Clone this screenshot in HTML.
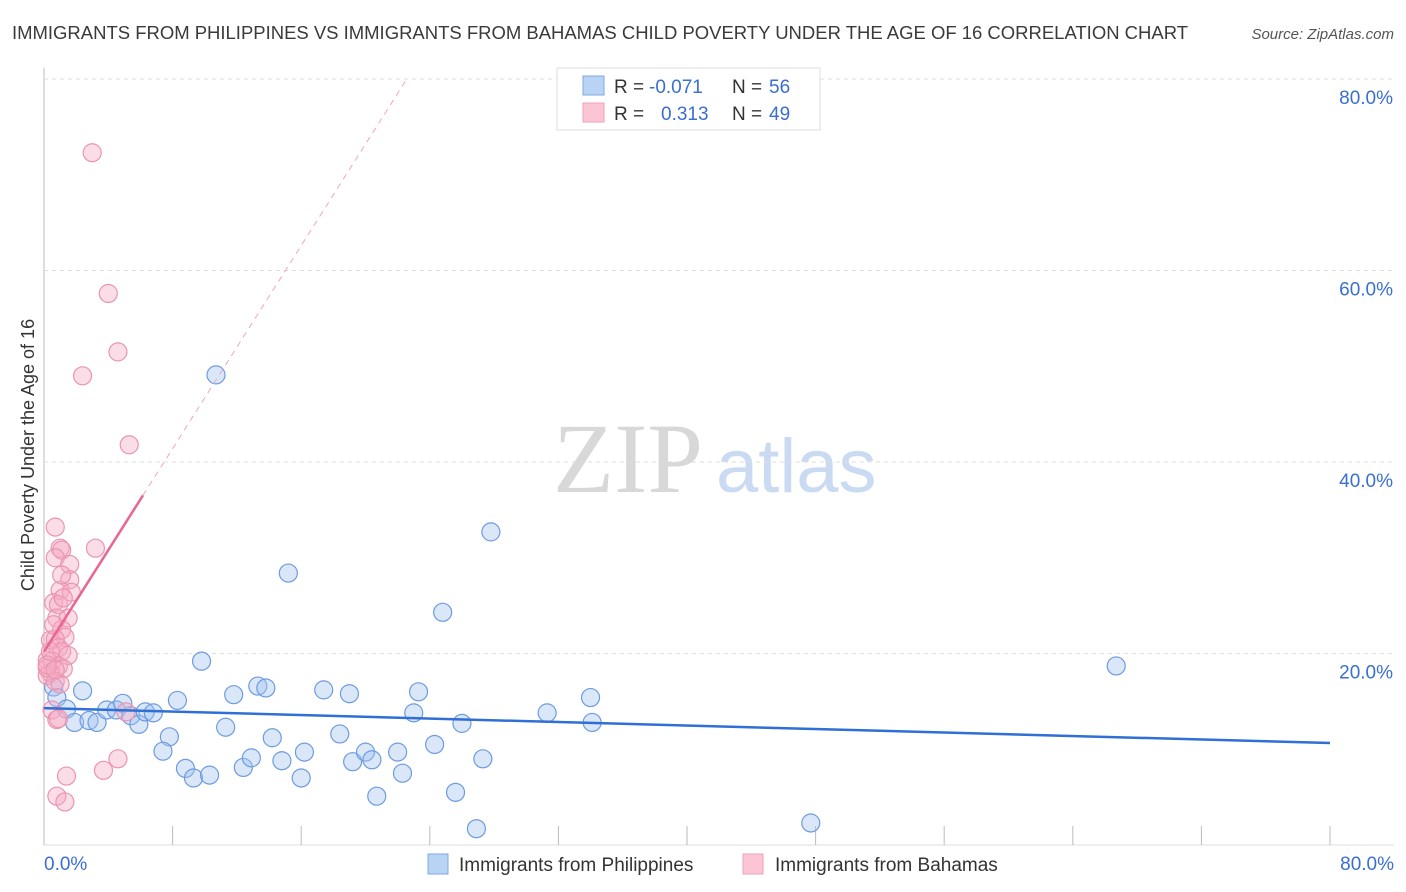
<!DOCTYPE html>
<html><head><meta charset="utf-8"><style>
body{margin:0;background:#fff;font-family:"Liberation Sans",sans-serif;}
svg{display:block}
</style></head><body>
<svg id="chart" width="1406" height="892" xmlns="http://www.w3.org/2000/svg">
<text x="12" y="39" font-size="18.4" fill="#3a3a3a" textLength="1176" lengthAdjust="spacingAndGlyphs">IMMIGRANTS FROM PHILIPPINES VS IMMIGRANTS FROM BAHAMAS CHILD POVERTY UNDER THE AGE OF 16 CORRELATION CHART</text>
<text x="1394" y="39" font-size="15" fill="#555" font-style="italic" text-anchor="end">Source: ZipAtlas.com</text>
<g>
<text x="553" y="492" font-family="Liberation Serif,serif" font-size="100" fill="#d8d8d8">ZIP</text>
<text x="716" y="492" font-size="76" fill="#c9daf2">atlas</text>
</g>
<text transform="translate(34,455) rotate(-90)" font-size="18" fill="#333" text-anchor="middle">Child Poverty Under the Age of 16</text>
<g id="grid"></g><g id="marks"></g>
<g>
<rect x="557" y="68" width="263" height="62" fill="#fff" stroke="#ddd"/>
<rect x="583" y="76" width="21" height="19" fill="#b9d3f5" stroke="#7fa8e3"/>
<rect x="583" y="103" width="21" height="19" fill="#fcc5d5" stroke="#f0a0b8"/>
<text x="614" y="93" font-size="19" fill="#333">R =</text><text x="649" y="93" font-size="19" fill="#3a6fd0">-0.071</text>
<text x="732" y="93" font-size="19" fill="#333">N =</text><text x="769" y="93" font-size="19" fill="#3a6fd0">56</text>
<text x="614" y="120" font-size="19" fill="#333">R =</text><text x="661" y="120" font-size="19" fill="#3a6fd0">0.313</text>
<text x="732" y="120" font-size="19" fill="#333">N =</text><text x="769" y="120" font-size="19" fill="#3a6fd0">49</text>
</g>
<g>
<rect x="428" y="854" width="20" height="20" fill="#b9d3f5" stroke="#7fa8e3"/>
<text x="459" y="871" font-size="19" fill="#333">Immigrants from Philippines</text>
<rect x="743" y="854" width="20" height="20" fill="#fcc5d5" stroke="#f0a0b8"/>
<text x="775" y="871" font-size="19" fill="#333">Immigrants from Bahamas</text>
</g>
</svg>
<script>
const blueX=[10.7,27.8,15.2,24.8,66.7,9.8,2.4,0.6,0.8,1.4,1.9,2.8,3.3,3.9,4.5,4.9,5.4,5.9,6.3,6.8,8.3,7.8,7.4,8.8,9.3,10.3,11.3,11.8,12.4,12.9,13.3,13.8,14.2,14.8,16.0,16.2,17.4,18.4,19.0,19.2,20.0,20.4,20.7,22.0,22.3,23.0,23.3,24.3,25.6,26.0,26.9,27.3,31.3,34.0,34.1,47.7];
const blueY=[49.1,32.7,28.4,24.3,18.7,19.2,16.1,16.5,15.4,14.2,12.8,13.0,12.8,14.1,14.1,14.8,13.5,12.6,13.9,13.8,15.1,11.3,9.8,8.0,7.0,7.3,12.3,15.7,8.1,9.1,16.6,16.4,11.2,8.8,7.0,9.7,16.2,11.6,15.8,8.7,9.7,8.9,5.1,9.7,7.5,13.8,16.0,10.5,5.5,12.7,1.7,9.0,13.8,15.4,12.8,2.3];
const pinkX=[3.0,4.0,4.6,2.4,5.3,0.7,1.0,1.1,3.2,0.7,1.6,1.6,1.0,1.7,0.6,0.9,0.8,1.5,1.1,1.3,0.4,0.7,0.9,1.1,1.5,0.2,0.5,0.9,1.2,0.4,0.2,0.7,1.0,0.5,5.1,0.8,0.9,4.6,3.7,1.4,0.8,1.3,0.2,0.4,0.6,1.2,1.1,0.2,0.7];
const pinkY=[72.3,57.6,51.5,49.0,41.8,33.2,31.0,30.8,31.0,30.0,29.3,27.7,26.6,26.4,25.3,25.1,23.7,23.7,22.5,21.7,21.4,21.5,20.6,20.2,19.8,19.3,19.2,18.7,18.4,18.0,17.7,17.1,16.8,14.1,13.9,13.1,13.2,9.0,7.8,7.2,5.1,4.5,18.5,20.2,23.0,25.8,28.2,18.8,18.3];
const blueTrend=[14.3,-0.0456]; // intercept, slope
const pinkTrend=[20.2,2.65];
const yTicks=[20,40,60,80];
const xTicks=[0,8,16,24,32,40,48,56,64,72,80];
const NS="http://www.w3.org/2000/svg";
const X=v=>44+v*16.075, Y=v=>845-v*9.575;
function mk(tag,attrs,parent){const e=document.createElementNS(NS,tag);for(const k in attrs)e.setAttribute(k,attrs[k]);parent.appendChild(e);return e;}
const grid=document.getElementById('grid'), marks=document.getElementById('marks');
let a=mk('line',{x1:44,y1:68,x2:44,y2:845,stroke:'#bbb'},grid);


let b=mk('line',{x1:44,y1:845,x2:1394,y2:845,stroke:'#ddd'},grid);


yTicks.forEach(t=>{
 const g=mk('line',{x1:44,y1:Y(t),x2:1394,y2:Y(t),stroke:'#ddd','stroke-dasharray':'4,4'},grid);
 
 
 const l=mk('text',{x:1393,y:Y(t)+25,'font-size':19,fill:'#3a6fd0','text-anchor':'end'},grid);l.textContent=t.toFixed(1)+'%';
 
 
});
xTicks.forEach(t=>{
 const k=mk('line',{x1:X(t),y1:826,x2:X(t),y2:845,stroke:'#bbb'},grid);
 
 
});
let l0=mk('text',{x:44,y:870,'font-size':19,fill:'#3a6fd0'},grid);l0.textContent=xTicks[0].toFixed(1)+'%';


let l1=mk('text',{x:1394,y:870,'font-size':19,fill:'#3a6fd0','text-anchor':'end'},grid);l1.textContent=xTicks[xTicks.length-1].toFixed(1)+'%';


blueX.forEach((v,i)=>{
 const c=mk('circle',{cx:X(v),cy:Y(blueY[i]),r:9,fill:'rgba(160,195,240,0.4)',stroke:'#6e9be0','stroke-width':1.2},marks);
 
 
});
pinkX.forEach((v,i)=>{
 const c=mk('circle',{cx:X(v),cy:Y(pinkY[i]),r:9,fill:'rgba(245,170,195,0.4)',stroke:'#eb94b0','stroke-width':1.2},marks);
 
 
});
let bt=mk('line',{x1:X(0),y1:Y(blueTrend[0]),x2:X(80),y2:Y(blueTrend[0]+blueTrend[1]*80),stroke:'#2f6fd6','stroke-width':2.5},marks);


const pxEnd=6.16, pxDash=(80-pinkTrend[0])/pinkTrend[1];
let pt=mk('line',{x1:X(0),y1:Y(pinkTrend[0]),x2:X(pxEnd),y2:Y(pinkTrend[0]+pinkTrend[1]*pxEnd),stroke:'#e8668f','stroke-width':2.5},marks);


let pd=mk('line',{x1:X(pxEnd),y1:Y(pinkTrend[0]+pinkTrend[1]*pxEnd),x2:X(pxDash),y2:Y(80),stroke:'#f0a5bd','stroke-width':1,'stroke-dasharray':'6,5'},marks);


</script>
</body></html>
